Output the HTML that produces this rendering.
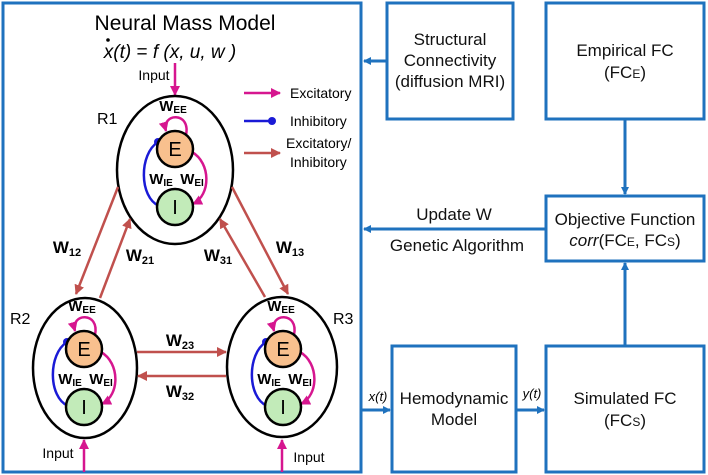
<!DOCTYPE html>
<html><head><meta charset="utf-8"><style>
html,body{margin:0;padding:0;background:#fff}
svg{display:block;font-family:"Liberation Sans",Arial,sans-serif}
</style></head><body>
<svg width="708" height="475" viewBox="0 0 708 475" xmlns="http://www.w3.org/2000/svg">
<defs>
<marker id="ab" markerWidth="8" markerHeight="8" refX="7" refY="4" orient="auto" markerUnits="userSpaceOnUse"><path d="M0,0 L8,4 L0,8 z" fill="#1f72be"/></marker>
<marker id="ap" markerWidth="10" markerHeight="10" refX="9" refY="5" orient="auto" markerUnits="userSpaceOnUse"><path d="M0,0 L10,5 L0,10 z" fill="#d6168f"/></marker>
<marker id="ar" markerWidth="10" markerHeight="10" refX="9" refY="5" orient="auto" markerUnits="userSpaceOnUse"><path d="M0,0 L10,5 L0,10 z" fill="#c0504d"/></marker>
<g id="mot">
<path d="M11,-14 C16,-38 -14,-36 -9,-18" fill="none" stroke="#d6168f" stroke-width="2.5" marker-end="url(#ap)"/>
<path d="M-16,57 C-36,48 -36,5 -17,-7" fill="none" stroke="#1a1ad6" stroke-width="2.5"/>
<circle cx="-17" cy="-7" r="4" fill="#1a1ad6"/>
<path d="M17,3 C36,14 36,46 18,55" fill="none" stroke="#d6168f" stroke-width="2.5" marker-end="url(#ap)"/>
<circle cx="0" cy="0" r="18" fill="#f8c08e" stroke="#000" stroke-width="2.5"/>
<circle cx="0" cy="58" r="18" fill="#c2ebb9" stroke="#000" stroke-width="2.5"/>
<text x="0" y="7" font-size="20" text-anchor="middle">E</text>
<text x="0" y="65" font-size="20" text-anchor="middle">I</text>
<text x="-2" y="-38" font-size="15" font-weight="bold" text-anchor="middle">W<tspan font-size="10" dy="2">EE</tspan></text>
<text x="-14" y="35" font-size="15" font-weight="bold" text-anchor="middle">W<tspan font-size="10" dy="2">IE</tspan></text>
<text x="17" y="35" font-size="15" font-weight="bold" text-anchor="middle">W<tspan font-size="10" dy="2">EI</tspan></text>
</g>
</defs>
<g fill="none" stroke="#1f72be" stroke-width="3">
<rect x="3" y="3" width="358" height="469"/>
<rect x="387" y="3" width="126" height="116"/>
<rect x="546" y="3" width="158" height="116"/>
<rect x="546" y="196" width="158" height="65"/>
<rect x="392" y="346" width="124" height="126"/>
<rect x="546" y="346" width="158" height="126"/>
<line x1="387" y1="61" x2="364" y2="61" marker-end="url(#ab)"/>
<line x1="546" y1="229" x2="364" y2="229" marker-end="url(#ab)"/>
<line x1="361" y1="410" x2="390" y2="410" marker-end="url(#ab)"/>
<line x1="516" y1="410" x2="544" y2="410" marker-end="url(#ab)"/>
<line x1="625" y1="119" x2="625" y2="194" marker-end="url(#ab)"/>
<line x1="625" y1="346" x2="625" y2="263" marker-end="url(#ab)"/>
</g>
<g font-size="17" text-anchor="middle" fill="#111">
<text x="450" y="45">Structural</text>
<text x="450" y="66">Connectivity</text>
<text x="450" y="87">(diffusion MRI)</text>
<text x="625" y="56">Empirical FC</text>
<text x="625" y="78">(FC<tspan font-size="12">E</tspan>)</text>
<text x="625" y="225">Objective Function</text>
<text x="625" y="246"><tspan font-style="italic">corr</tspan>(FC<tspan font-size="12">E</tspan>, FC<tspan font-size="12">S</tspan>)</text>
<text x="454" y="404">Hemodynamic</text>
<text x="454" y="425">Model</text>
<text x="625" y="404">Simulated FC</text>
<text x="625" y="426">(FC<tspan font-size="12">S</tspan>)</text>
<text x="454" y="220">Update W</text>
<text x="457" y="251">Genetic Algorithm</text>
</g>
<text x="378" y="401" font-size="13" font-style="italic" text-anchor="middle">x(t)</text>
<text x="532" y="398" font-size="13" font-style="italic" text-anchor="middle">y(t)</text>
<text x="185" y="30" font-size="21" text-anchor="middle">Neural Mass Model</text>
<text x="170" y="58" font-size="19" font-style="italic" text-anchor="middle">x(t)  <tspan font-style="normal">= </tspan>f (x, u, w )</text>
<circle cx="108" cy="40" r="1.8" fill="#000"/>
<text x="154" y="80" font-size="14" text-anchor="middle">Input</text>
<line x1="175" y1="63" x2="175" y2="95" stroke="#d6168f" stroke-width="2.5" marker-end="url(#ap)"/>
<line x1="244" y1="93" x2="280" y2="93" stroke="#d6168f" stroke-width="2.5" marker-end="url(#ap)"/>
<text x="290" y="98" font-size="14">Excitatory</text>
<line x1="244" y1="121" x2="272" y2="121" stroke="#1a1ad6" stroke-width="2.5"/>
<circle cx="272" cy="121" r="4" fill="#1a1ad6"/>
<text x="290" y="126" font-size="14">Inhibitory</text>
<line x1="244" y1="153" x2="280" y2="153" stroke="#c0504d" stroke-width="2.5" marker-end="url(#ar)"/>
<text x="286" y="148" font-size="14">Excitatory/</text>
<text x="290" y="167" font-size="14">Inhibitory</text>
<g fill="none" stroke="#000" stroke-width="2.5">
<ellipse cx="175" cy="170" rx="58" ry="74"/>
<ellipse cx="85" cy="368" rx="52" ry="70"/>
<ellipse cx="282" cy="367" rx="55" ry="70"/>
</g>
<text x="97" y="124" font-size="16">R1</text>
<text x="10" y="324" font-size="16">R2</text>
<text x="333" y="324" font-size="16">R3</text>
<use href="#mot" x="175" y="149"/>
<use href="#mot" x="84" y="349"/>
<use href="#mot" x="283" y="349"/>
<g stroke="#c0504d" stroke-width="2.5" marker-end="url(#ar)">
<line x1="118" y1="187" x2="76" y2="294"/>
<line x1="100" y1="298" x2="130" y2="219"/>
<line x1="265" y1="297" x2="220" y2="219"/>
<line x1="232" y1="187" x2="288" y2="294"/>
<line x1="137" y1="352" x2="226" y2="352"/>
<line x1="226" y1="376" x2="138" y2="376"/>
</g>
<g font-size="17" font-weight="bold" text-anchor="middle">
<text x="67" y="253">W<tspan font-size="11" dy="3">12</tspan></text>
<text x="140" y="261">W<tspan font-size="11" dy="3">21</tspan></text>
<text x="218" y="261">W<tspan font-size="11" dy="3">31</tspan></text>
<text x="290" y="253">W<tspan font-size="11" dy="3">13</tspan></text>
<text x="180" y="346">W<tspan font-size="11" dy="3">23</tspan></text>
<text x="180" y="397">W<tspan font-size="11" dy="3">32</tspan></text>
</g>
<text x="58" y="458" font-size="14" text-anchor="middle">Input</text>
<line x1="84" y1="472" x2="84" y2="440" stroke="#d6168f" stroke-width="2.5" marker-end="url(#ap)"/>
<text x="309" y="462" font-size="14" text-anchor="middle">Input</text>
<line x1="282" y1="472" x2="282" y2="440" stroke="#d6168f" stroke-width="2.5" marker-end="url(#ap)"/>
</svg>
</body></html>
